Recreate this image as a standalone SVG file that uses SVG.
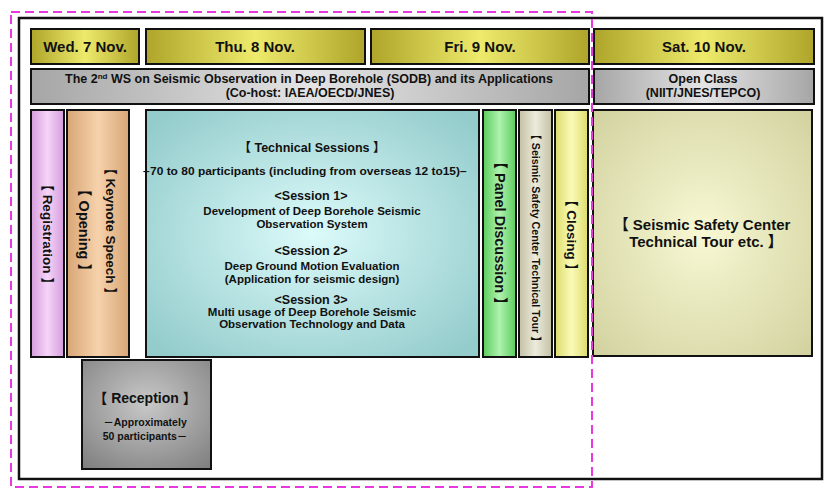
<svg xmlns="http://www.w3.org/2000/svg" width="832" height="493" viewBox="0 0 832 493">
  <style>
    text { font-family: "Liberation Sans", Arial, "Noto Sans CJK JP", sans-serif; font-weight: bold; fill: #111; }
    .box { stroke: #111; stroke-width: 2; }
    .mid { text-anchor: middle; }
    .hdr { font-size: 15px; }
    .sub { font-size: 12.5px; }
    .vt  { text-anchor: middle; dominant-baseline: central; }
    .ses { font-size: 11.5px; }
  </style>
  <defs>
    <linearGradient id="gHdr" x1="0" x2="1" y1="0" y2="0">
      <stop offset="0" stop-color="#aea52a"/>
      <stop offset="0.5" stop-color="#eeea6c"/>
      <stop offset="1" stop-color="#aea52a"/>
    </linearGradient>
    <linearGradient id="gGray" x1="0" x2="1" y1="0" y2="0">
      <stop offset="0" stop-color="#a6a6a6"/>
      <stop offset="0.5" stop-color="#e4e4e4"/>
      <stop offset="1" stop-color="#a6a6a6"/>
    </linearGradient>
    <linearGradient id="gReg" x1="0" x2="1">
      <stop offset="0" stop-color="#d49cdc"/>
      <stop offset="0.5" stop-color="#f6d4f8"/>
      <stop offset="1" stop-color="#d49cdc"/>
    </linearGradient>
    <linearGradient id="gOpen" x1="0" x2="1">
      <stop offset="0" stop-color="#d8a676"/>
      <stop offset="0.5" stop-color="#f6d2ac"/>
      <stop offset="1" stop-color="#d8a676"/>
    </linearGradient>
    <radialGradient id="gTech" cx="0.5" cy="0.5" r="0.65">
      <stop offset="0" stop-color="#dcfafa"/>
      <stop offset="1" stop-color="#94cccc"/>
    </radialGradient>
    <linearGradient id="gPanel" x1="0" x2="1">
      <stop offset="0" stop-color="#5ccc5c"/>
      <stop offset="0.5" stop-color="#aef2ae"/>
      <stop offset="1" stop-color="#5ccc5c"/>
    </linearGradient>
    <linearGradient id="gTour" x1="0" x2="1">
      <stop offset="0" stop-color="#c4c0a4"/>
      <stop offset="0.5" stop-color="#ecebdc"/>
      <stop offset="1" stop-color="#c4c0a4"/>
    </linearGradient>
    <linearGradient id="gClose" x1="0" x2="1">
      <stop offset="0" stop-color="#dcdc6c"/>
      <stop offset="0.5" stop-color="#fafab8"/>
      <stop offset="1" stop-color="#dcdc6c"/>
    </linearGradient>
    <radialGradient id="gSat" cx="0.5" cy="0.5" r="0.7">
      <stop offset="0" stop-color="#f8f8d4"/>
      <stop offset="1" stop-color="#d2d2a0"/>
    </radialGradient>
    <radialGradient id="gRecep" cx="0.5" cy="0.4" r="0.75">
      <stop offset="0" stop-color="#c8c8c8"/>
      <stop offset="1" stop-color="#808080"/>
    </radialGradient>
  </defs>

  <rect width="832" height="493" fill="#ffffff"/>

  <!-- outer frame -->
  <rect x="19" y="18" width="803" height="461" fill="#ffffff" stroke="#111" stroke-width="2.5"/>

  <!-- day headers -->
  <g id="day-wed">
    <rect class="box" x="31" y="29" width="108" height="35" fill="url(#gHdr)"/>
    <text class="hdr mid" x="85" y="52">Wed. 7 Nov.</text>
  </g>
  <g id="day-thu">
    <rect class="box" x="146" y="29" width="219" height="35" fill="url(#gHdr)"/>
    <text class="hdr mid" x="255" y="52">Thu. 8 Nov.</text>
  </g>
  <g id="day-fri">
    <rect class="box" x="371" y="29" width="218" height="35" fill="url(#gHdr)"/>
    <text class="hdr mid" x="480" y="52">Fri. 9 Nov.</text>
  </g>
  <g id="day-sat">
    <rect class="box" x="594" y="29" width="220" height="35" fill="url(#gHdr)"/>
    <text class="hdr mid" x="704" y="52">Sat. 10 Nov.</text>
  </g>

  <!-- event titles -->
  <g id="workshop-title">
    <rect class="box" x="31" y="69" width="558" height="35" fill="url(#gGray)"/>
    <text class="sub mid" x="309" y="83">The 2<tspan font-size="8" dy="-4">nd</tspan><tspan dy="4"> WS on Seismic Observation in Deep Borehole (SODB) and its Applications</tspan></text>
    <text class="sub mid" x="310" y="97">(Co-host: IAEA/OECD/JNES)</text>
  </g>
  <g id="open-class">
    <rect class="box" x="594" y="69" width="220" height="35" fill="url(#gGray)"/>
    <text class="sub mid" x="703" y="83">Open Class</text>
    <text class="sub mid" x="703" y="97">(NIIT/JNES/TEPCO)</text>
  </g>

  <!-- programme blocks -->
  <g id="registration">
    <rect class="box" x="31" y="110" width="33" height="247" fill="url(#gReg)"/>
    <text class="vt" font-size="13.5" transform="translate(47.5,234) rotate(90)">【 Registration 】</text>
  </g>
  <g id="opening-keynote">
    <rect class="box" x="67" y="110" width="62" height="247" fill="url(#gOpen)"/>
    <text class="vt" font-size="13.5" transform="translate(110,231) rotate(90)">【 Keynote Speech 】</text>
    <text class="vt" font-size="14.5" transform="translate(84,230) rotate(90)">【 Opening 】</text>
  </g>
  <g id="technical-sessions">
    <rect class="box" x="146" y="110" width="333" height="247" fill="url(#gTech)"/>
    <text class="mid" font-size="12.5" x="312" y="152">【 Technical Sessions 】</text>
    <text class="mid" font-size="10" x="305" y="175" textLength="324" lengthAdjust="spacingAndGlyphs">−70 to 80 participants (including from overseas 12 to15)−</text>
    <text class="mid" font-size="12.5" x="311" y="200">&lt;Session 1&gt;</text>
    <text class="mid ses" x="312" y="215">Development of Deep Borehole Seismic</text>
    <text class="mid ses" x="312" y="228">Observation System</text>
    <text class="mid" font-size="12.5" x="311" y="255">&lt;Session 2&gt;</text>
    <text class="mid ses" x="312" y="270">Deep Ground Motion Evaluation</text>
    <text class="mid ses" x="312" y="283">(Application for seismic design)</text>
    <text class="mid" font-size="12.5" x="311" y="304">&lt;Session 3&gt;</text>
    <text class="mid ses" x="312" y="316">Multi usage of Deep Borehole Seismic</text>
    <text class="mid ses" x="312" y="328">Observation Technology and Data</text>
  </g>
  <g id="panel-discussion">
    <rect class="box" x="483" y="110" width="33" height="247" fill="url(#gPanel)"/>
    <text class="vt" font-size="14.5" transform="translate(499.5,233) rotate(90)">【 Panel Discussion 】</text>
  </g>
  <g id="center-tour">
    <rect class="box" x="519" y="110" width="33" height="247" fill="url(#gTour)"/>
    <text class="vt" font-size="11" transform="translate(535.5,238) rotate(90)" textLength="218" lengthAdjust="spacingAndGlyphs">【 Seismic Safety Center Technical Tour 】</text>
  </g>
  <g id="closing">
    <rect class="box" x="555" y="110" width="33" height="247" fill="url(#gClose)"/>
    <text class="vt" font-size="13.5" transform="translate(571.5,235) rotate(90)">【 Closing 】</text>
  </g>
  <g id="sat-tour">
    <rect class="box" x="593" y="110" width="219" height="246" fill="url(#gSat)"/>
    <text class="mid" font-size="15" x="702" y="230">【 Seismic Safety Center</text>
    <text class="mid" font-size="15" x="706" y="247">Technical Tour etc. 】</text>
  </g>
  <g id="reception">
    <rect class="box" x="82" y="360" width="129" height="109" fill="url(#gRecep)"/>
    <text class="mid" font-size="14" x="145" y="403">【 Reception 】</text>
    <text class="mid" font-size="10.5" x="145" y="426">－Approximately</text>
    <text class="mid" font-size="10.5" x="145" y="440">50 participants－</text>
  </g>

  <!-- workshop span outline -->
  <rect x="11" y="12" width="581" height="475" fill="none" stroke="#e838e0" stroke-width="2" stroke-dasharray="9 5"/>
</svg>
